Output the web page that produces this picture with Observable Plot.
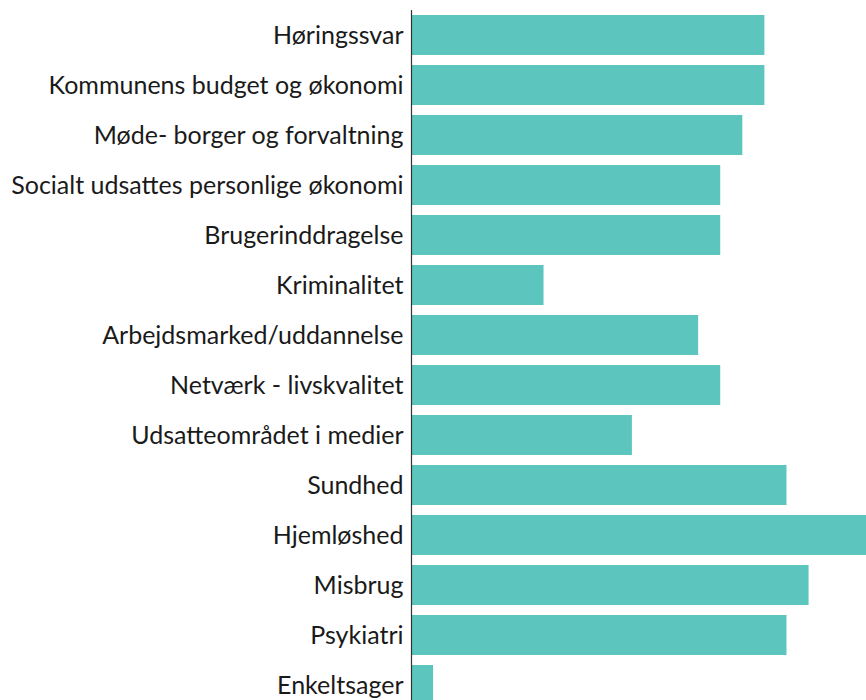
<!DOCTYPE html>
<html>
<head>
<meta charset="utf-8">
<script src="https://cdn.jsdelivr.net/npm/d3@7"></script>
<script src="https://cdn.jsdelivr.net/npm/@observablehq/plot@0.6"></script>
<style>
html, body { margin: 0; padding: 0; background: #fff; overflow: hidden; height: 700px; }
#chart { height: 700px; overflow: hidden; }
#chart svg { display: block; }
</style>
</head>
<body>
<div id="chart"></div>
<script>
const categories = [
  "Høringssvar",
  "Kommunens budget og økonomi",
  "Møde- borger og forvaltning",
  "Socialt udsattes personlige økonomi",
  "Brugerinddragelse",
  "Kriminalitet",
  "Arbejdsmarked/uddannelse",
  "Netværk - livskvalitet",
  "Udsatteområdet i medier",
  "Sundhed",
  "Hjemløshed",
  "Misbrug",
  "Psykiatri",
  "Enkeltsager"
];
const values = [16, 16, 15, 14, 14, 6, 13, 14, 10, 17, 21, 18, 17, 1];

const data = categories.map((c, i) => ({category: c, value: values[i]}));

const chart = Plot.plot({
  width: 866,
  height: 710,
  marginLeft: 411,
  marginRight: 0,
  marginTop: 10,
  marginBottom: 0,
  style: {fontFamily: "Lato", fontSize: "25px", color: "#1a1a1a", background: "#fff"},
  x: {domain: [0, 20.6], clamp: true, axis: null},
  y: {domain: categories, paddingInner: 0.2, paddingOuter: 0.1, label: null, tickSize: 0, tickPadding: 8},
  marks: [
    Plot.barX(data, {y: "category", x: "value", fill: "#5cc5be"}),
    Plot.ruleX([0], {stroke: "#333", strokeWidth: 1.2})
  ]
});
document.getElementById("chart").appendChild(chart);
</script>
</body>
</html>
